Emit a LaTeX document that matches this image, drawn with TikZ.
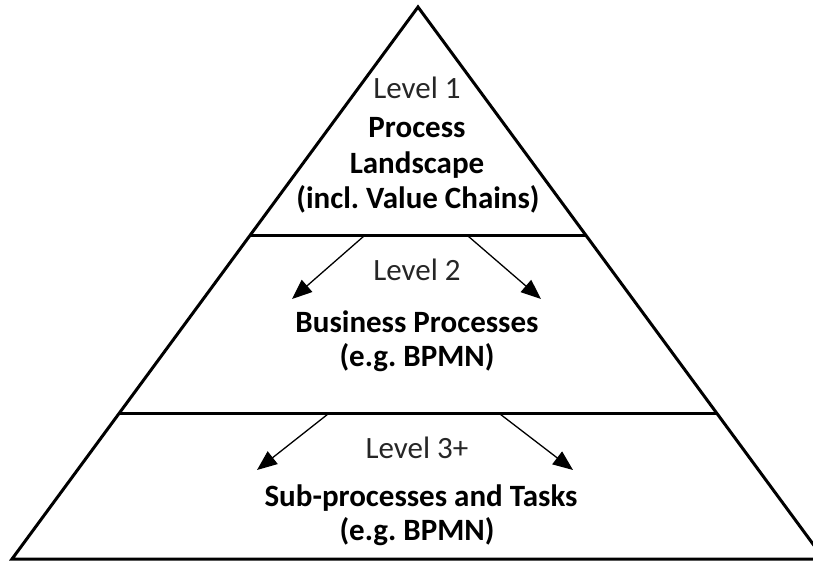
\documentclass[tikz,border=0pt]{standalone}
\usepackage{fontspec}
\setmainfont{Carlito}
\usetikzlibrary{arrows.meta}
\frenchspacing
\begin{document}
\begin{tikzpicture}[x=1pt,y=-1pt,
  edge/.style={line width=3pt,line join=miter},
  flow/.style={line width=1.3pt,-{Triangle[length=20pt,width=16pt]}},
  lvl/.style={anchor=base,inner sep=0pt,font=\fontsize{31}{36}\selectfont,text=black!85},
  ttl/.style={anchor=base,inner sep=0pt,font=\fontsize{31}{36}\selectfont\bfseries,text=black}]
\useasboundingbox (0,0) rectangle (813,560);
\clip (0,0) rectangle (813,560);
\coordinate (apex) at (418,7);
\coordinate (bl) at (12,559);
\coordinate (br) at (824,559);
\coordinate (l1a) at (250,235);
\coordinate (l1b) at (586,235);
\coordinate (l2a) at (119,413);
\coordinate (l2b) at (717,413);
\draw[edge] (bl) -- (apex) -- (br) -- cycle;
\draw[edge] (l1a) -- (l1b);
\draw[edge] (l2a) -- (l2b);
% arrows
\coordinate (s1) at (364,236);
\coordinate (t1) at (292,299);
\coordinate (s2) at (468,236);
\coordinate (t2) at (541,299);
\coordinate (s3) at (328,414);
\coordinate (t3) at (257,470);
\coordinate (s4) at (500,414);
\coordinate (t4) at (573,470);
\draw[flow] (s1) -- (t1);
\draw[flow] (s2) -- (t2);
\draw[flow] (s3) -- (t3);
\draw[flow] (s4) -- (t4);
% texts
\node[lvl] (lv1) at (417,98) {Level 1};
\node[ttl] (p1) at (417,137) {Process};
\node[ttl] (p2) at (417,173) {Landscape};
\node[ttl] (p3) at (418,208) {(incl. Value Chains)};
\node[lvl] (lv2) at (417,280) {Level 2};
\node[ttl] (b1) at (417,332) {Business Processes};
\node[ttl] (b2) at (417,366) {(e.g. BPMN)};
\node[lvl] (lv3) at (417,458) {Level 3+};
\node[ttl] (c1) at (421,506) {Sub-processes and Tasks};
\node[ttl] (c2) at (417,540) {(e.g. BPMN)};
\end{tikzpicture}
\end{document}
